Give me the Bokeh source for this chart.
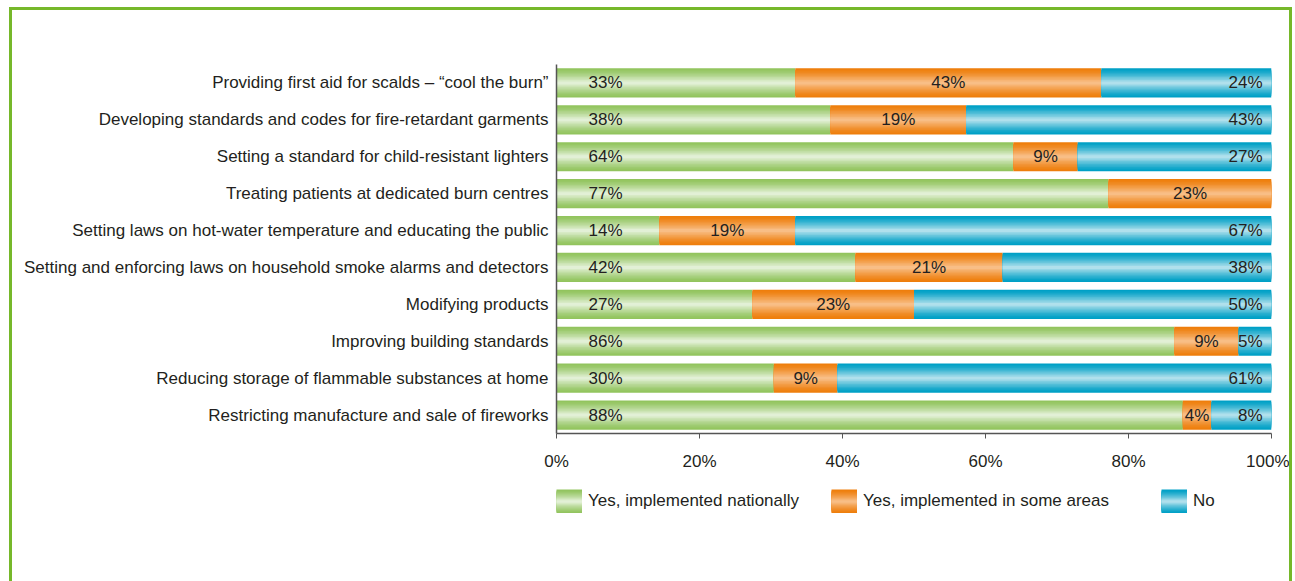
from bokeh.plotting import figure
from bokeh.layouts import column
from bokeh.models import (ColumnDataSource, FactorRange, Range1d, FixedTicker,
                          PrintfTickFormatter, Legend, LegendItem)
from bokeh.core.properties import value
from bokeh.embed import file_html
from bokeh.resources import INLINE

# ---------------- data ----------------
categories = [
    "Providing first aid for scalds \u2013 \u201ccool the burn\u201d",
    "Developing standards and codes for fire-retardant garments",
    "Setting a standard for child-resistant lighters",
    "Treating patients at dedicated burn centres",
    "Setting laws on hot-water temperature and educating the public",
    "Setting and enforcing laws on household smoke alarms and detectors",
    "Modifying products",
    "Improving building standards",
    "Reducing storage of flammable substances at home",
    "Restricting manufacture and sale of fireworks",
]
nationally = [33.4, 38.3, 63.9, 77.2, 14.4, 41.8, 27.4, 86.4, 30.4, 87.6]
some_areas = [42.8, 19.0, 9.0, 22.8, 19.0, 20.6, 22.6, 9.0, 8.9, 4.0]
no_impl = [23.8, 42.7, 27.1, 0.0, 66.6, 37.6, 50.0, 4.6, 60.7, 8.4]
series_names = ["Yes, implemented nationally", "Yes, implemented in some areas", "No"]
x_ticks = [0, 20, 40, 60, 80, 100]

# ---------------- styles ----------------
FONT = "Liberation Sans Narrow, Liberation Sans, Arial, sans-serif"
FS = "17px"
TEXT_COLOR = "#231F20"
DARK = ["#92C45E", "#EE7E0C", "#00A0C6"]
LIGHT = ["#E2F0D6", "#F8BE86", "#B0E0EC"]
BORDER = "#76B82A"
N_LAYERS = 10
BAR_H = 0.79
W = 1277


def mix(c1, c2, t):
    a = [int(c1[i:i + 2], 16) for i in (1, 3, 5)]
    b = [int(c2[i:i + 2], 16) for i in (1, 3, 5)]
    return "#%02x%02x%02x" % tuple(round(x + (y - x) * t) for x, y in zip(a, b))


series = [nationally, some_areas, no_impl]
lefts, rights = [], []
cum = [0.0] * len(categories)
for vals in series:
    lefts.append(list(cum))
    cum = [c + v for c, v in zip(cum, vals)]
    rights.append(list(cum))

p = figure(
    y_range=FactorRange(factors=list(reversed(categories))),
    x_range=Range1d(0, 100),
    width=W, height=470,
    min_border_left=544, min_border_right=18,
    min_border_top=54, min_border_bottom=47,
    output_backend="svg", toolbar_location=None,
    background_fill_color="white", border_fill_color="white",
)
p.outline_line_color = None
p.xgrid.visible = False
p.ygrid.visible = False

# legend-only figure below the chart
lp = figure(width=W, height=101, output_backend="svg", toolbar_location=None,
            x_axis_type=None, y_axis_type=None, min_border=0,
            x_range=Range1d(0, 1), y_range=Range1d(0, 1),
            background_fill_color="white", border_fill_color="white")
lp.outline_line_color = None
lp.xgrid.visible = False
lp.ygrid.visible = False

legend_renderers = []
for i, vals in enumerate(series):
    src = ColumnDataSource(dict(cat=categories, left=lefts[i], right=rights[i]))
    leg_src = ColumnDataSource(dict(x=[-5.0], y=[-5.0]))
    rends = []
    for k in range(N_LAYERS):
        t = (k / (N_LAYERS - 1)) ** 1.3
        col = mix(DARK[i], LIGHT[i], t)
        h = BAR_H * (1 - k / N_LAYERS)
        p.hbar(y="cat", left="left", right="right", height=h, source=src,
               fill_color=col, line_color=None)
        lw = 24 * (1 - k / N_LAYERS)
        rends.append(lp.line(x="x", y="y", source=leg_src, line_color=col,
                             line_width=lw, line_cap="butt"))
    legend_renderers.append(rends)

# value labels
lab_font = value(FONT)
g_src = ColumnDataSource(dict(cat=categories, x=[0] * len(categories),
                              t=[f"{v:.0f}%" for v in nationally]))
p.text(x="x", y="cat", text="t", source=g_src, x_offset=32, text_align="left",
       text_baseline="middle", text_font=lab_font, text_font_size=FS,
       text_color=TEXT_COLOR)

o_idx = [j for j, v in enumerate(some_areas) if v > 0]
o_src = ColumnDataSource(dict(cat=[categories[j] for j in o_idx],
                              x=[lefts[1][j] + some_areas[j] / 2 for j in o_idx],
                              t=[f"{some_areas[j]:.0f}%" for j in o_idx]))
p.text(x="x", y="cat", text="t", source=o_src, text_align="center",
       text_baseline="middle", text_font=lab_font, text_font_size=FS,
       text_color=TEXT_COLOR)

b_idx = [j for j, v in enumerate(no_impl) if v > 0]
b_src = ColumnDataSource(dict(cat=[categories[j] for j in b_idx],
                              x=[rights[2][j] for j in b_idx],
                              t=[f"{no_impl[j]:.0f}%" for j in b_idx]))
p.text(x="x", y="cat", text="t", source=b_src, x_offset=-9, text_align="right",
       text_baseline="middle", text_font=lab_font, text_font_size=FS,
       text_color=TEXT_COLOR)

# axes
p.xaxis.ticker = FixedTicker(ticks=x_ticks)
p.xaxis.formatter = PrintfTickFormatter(format="%d%%")
p.xaxis.major_tick_in = 0
p.xaxis.major_tick_out = 5
p.xaxis.minor_tick_line_color = None
p.xaxis.major_label_standoff = 13
p.xaxis.axis_line_color = "#555555"
p.xaxis.axis_line_width = 1.5
p.xaxis.major_tick_line_color = "#555555"
p.xaxis.major_label_text_font = FONT
p.xaxis.major_label_text_font_size = FS
p.xaxis.major_label_text_color = TEXT_COLOR

p.yaxis.major_tick_in = 0
p.yaxis.major_tick_out = 0
p.yaxis.minor_tick_line_color = None
p.yaxis.major_label_standoff = 8
p.yaxis.axis_line_color = "#555555"
p.yaxis.axis_line_width = 1.5
p.yaxis.major_label_text_font = FONT
p.yaxis.major_label_text_font_size = FS
p.yaxis.major_label_text_color = TEXT_COLOR

# legends, one per item at fixed offsets (relative to the aligned frame)
leg_x = [0, 275, 605]
for i, name in enumerate(series_names):
    lg = Legend(items=[LegendItem(label=name, renderers=legend_renderers[i])],
                location=(leg_x[i], 68), orientation="horizontal",
                glyph_width=26, glyph_height=24, label_standoff=6,
                padding=0, margin=0, border_line_color=None,
                background_fill_alpha=0, label_text_font=FONT,
                label_text_font_size=FS, label_text_color=TEXT_COLOR,
                label_height=24)
    lp.add_layout(lg, "center")

layout = column(p, lp, spacing=0)
layout.styles = {
    "border-top": f"3px solid {BORDER}",
    "border-left": f"3px solid {BORDER}",
    "border-right": f"3px solid {BORDER}",
    "margin-left": "9px",
    "margin-top": "7px",
}

open("out.html", "w").write(file_html(layout, INLINE))
